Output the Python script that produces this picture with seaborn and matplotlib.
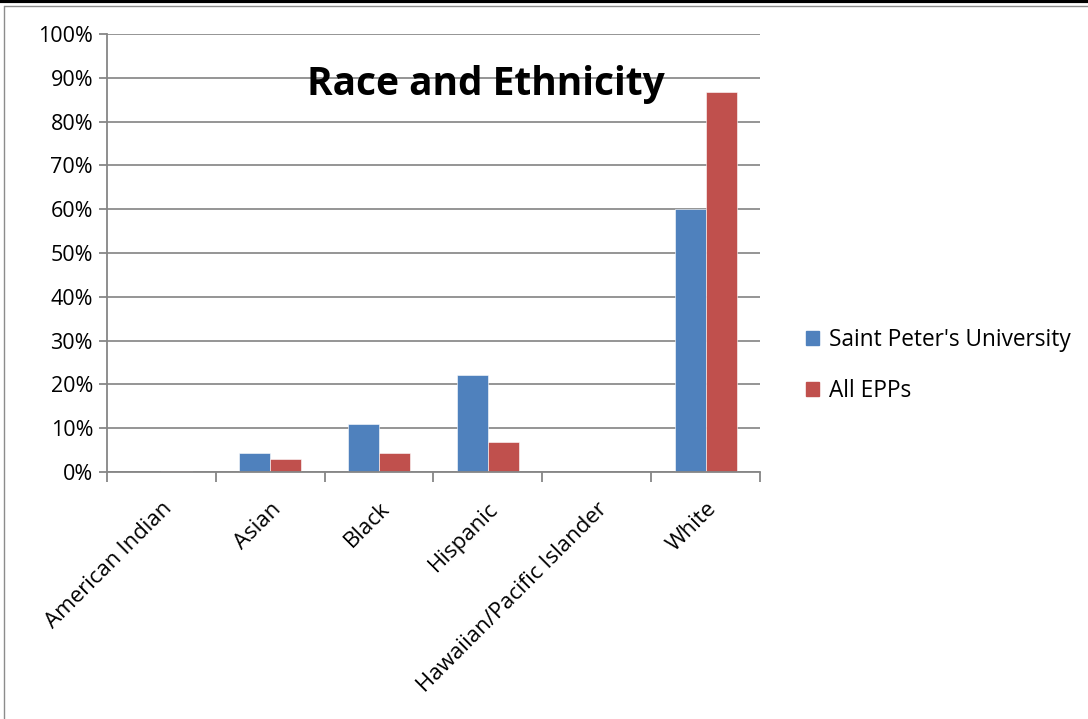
import matplotlib.pyplot as plt
import matplotlib.patches as mpatches
from matplotlib.ticker import FixedLocator, PercentFormatter
import seaborn as sns
import pandas as pd

categories = ["American Indian", "Asian", "Black", "Hispanic", "Hawaiian/Pacific Islander", "White"]
saint_peters = [0.0, 4.3, 11.0, 22.1, 0.0, 60.0]
all_epps = [0.3, 3.0, 4.3, 6.8, 0.1, 86.8]
series_names = ["Saint Peter's University", "All EPPs"]
colors = ["#4F81BD", "#C0504D"]

df = pd.DataFrame({
    "category": categories * 2,
    "value": saint_peters + all_epps,
    "series": [series_names[0]] * len(categories) + [series_names[1]] * len(categories),
})

sns.set_style("white")
plt.rcParams['font.family'] = ['Open Sans', 'DejaVu Sans']
plt.rcParams['text.color'] = 'black'
plt.rcParams['xtick.color'] = 'black'
plt.rcParams['ytick.color'] = 'black'

fig = plt.figure(figsize=(10.88, 7.19), dpi=100)
ax = fig.add_axes([0.0983, 0.3435, 0.6002, 0.6092])

sns.barplot(data=df, x="category", y="value", hue="series", palette=colors,
            saturation=1, width=0.57, ax=ax, legend=False,
            edgecolor="white", linewidth=0.4)

ax.set_ylim(0, 100)
ax.set_xlim(-0.5, len(categories) - 0.5)
ax.set_yticks(range(0, 101, 10))
ax.yaxis.set_major_formatter(PercentFormatter(decimals=0))
ax.yaxis.grid(True, color="#8c8c8c", linewidth=1.3)
ax.set_axisbelow(True)
ax.set_xlabel("")
ax.set_ylabel("")

for s in ["top", "right"]:
    ax.spines[s].set_visible(False)
for s in ["left", "bottom"]:
    ax.spines[s].set_color("#868686")
    ax.spines[s].set_linewidth(1.3)

ax.tick_params(axis="y", left=True, length=6, width=1.3, color="#868686",
               labelcolor="black", labelsize=15.5, pad=4)
ax.xaxis.set_minor_locator(FixedLocator([i - 0.5 for i in range(len(categories) + 1)]))
ax.tick_params(axis="x", which="minor", bottom=True, length=7, width=1.3, color="#868686")
ax.tick_params(axis="x", which="major", bottom=False, length=0, labelsize=16,
               labelcolor="black", pad=19)
for lbl in ax.get_xticklabels():
    lbl.set_rotation(45)
    lbl.set_ha("right")
    lbl.set_rotation_mode("anchor")

ax.text(0.58, 0.885, "Race and Ethnicity", transform=ax.transAxes, ha="center",
        va="center", fontsize=28, fontweight="bold", color="black")

handles = [mpatches.Patch(color=c, label=n) for c, n in zip(colors, series_names)]
fig.legend(handles=handles, loc="center left", bbox_to_anchor=(0.722, 0.492),
           frameon=False, fontsize=16.3, handlelength=0.6, handleheight=0.6,
           labelspacing=1.2, handletextpad=0.4, labelcolor="black")

# figure border like the screenshot
fig.add_artist(plt.Line2D([0, 1], [0.998, 0.998], color="black", linewidth=3))
fig.add_artist(plt.Line2D([0.004, 1], [0.992, 0.992], color="#8c8c8c", linewidth=1))
fig.add_artist(plt.Line2D([0.004, 0.004], [0, 0.992], color="#8c8c8c", linewidth=1))

fig.savefig("out.png", dpi=100)
